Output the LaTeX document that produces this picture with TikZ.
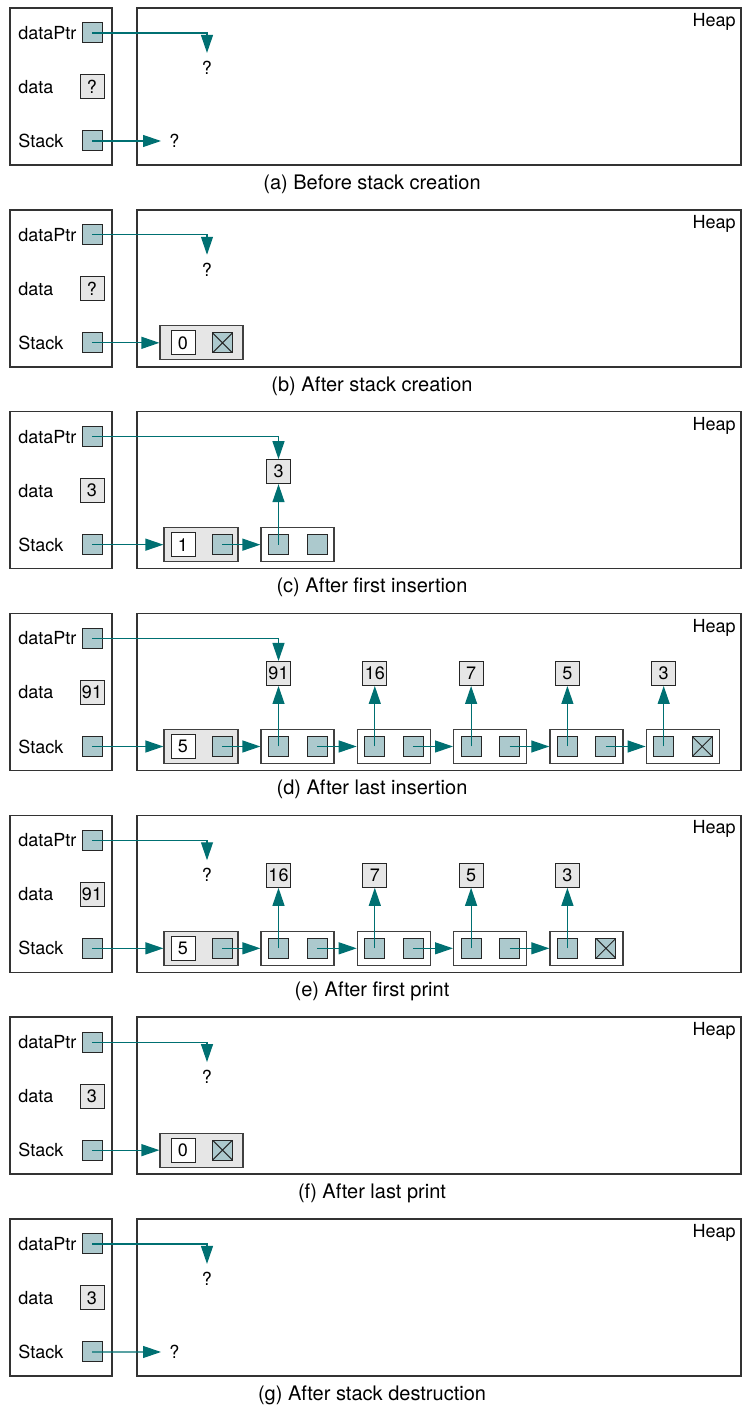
\documentclass[tikz,border=0pt]{standalone}
\usepackage{fontspec}
\setmainfont{TeX Gyre Heros}
\usepackage{tikz}
\usetikzlibrary{arrows.meta}
\definecolor{lnkcol}{RGB}{0,112,114}
\definecolor{ptrfill}{RGB}{172,201,205}
\definecolor{valfill}{RGB}{230,230,230}
\tikzset{
  frm/.style    ={draw=black!80, line width=0.7pt},
  lbl/.style    ={font=\fontsize{9}{10}\selectfont, inner sep=1pt},
  capt/.style   ={font=\fontsize{10}{12}\selectfont},
  unk/.style    ={lbl, inner sep=4pt},
  ptr/.style    ={draw=black!85, fill=ptrfill, minimum size=10pt,
                  inner sep=0pt, line width=0.5pt},
  nil/.style    ={ptr, path picture={
                  \draw[line width=0.5pt]
                  (path picture bounding box.south west) --
                  (path picture bounding box.north east)
                  (path picture bounding box.north west) --
                  (path picture bounding box.south east);}},
  val/.style    ={draw=black!85, fill=valfill, minimum size=12pt,
                  inner sep=0.5pt, line width=0.5pt,
                  font=\fontsize{9}{10}\selectfont},
  cnt/.style    ={val, fill=white},
  head/.style   ={draw=black!75, fill=valfill, minimum width=37pt,
                  minimum height=17pt, inner sep=0pt, line width=0.6pt},
  cell/.style   ={head, fill=white, minimum width=36.5pt},
  lnk/.style    ={-{Triangle[length=9pt, width=6pt]}, line width=0.6pt,
                  lnkcol},
}

\begin{document}
\begin{tikzpicture}[x=0.5pt, y=-0.5pt]
\useasboundingbox (0,0) rectangle (746,1406);
% frames shared by all seven states
\foreach \k/\p/\dval/\ctext in {0/a/?/Before stack creation,
    1/b/?/After stack creation, 2/c/3/After first insertion,
    3/d/91/After last insertion, 4/e/91/After first print,
    5/f/3/After last print, 6/g/3/After stack destruction}{
  \begin{scope}[shift={(0,201.83*\k)}]
  \draw[frm] (10,8) rectangle (112,165);
  \draw[frm] (137,8) rectangle (741,165);
  \node[lbl, anchor=east] (heap\p) at (738,22) {Heap};
  \node[lbl, anchor=west] (lptr\p) at (16,33) {dataPtr};
  \node[lbl, anchor=west] (ldata\p) at (16,87) {data};
  \node[lbl, anchor=west] (lstk\p) at (16,141) {Stack};
  \node[ptr] (ptr\p) at (92,33) {};
  \node[val] (data\p) at (92,87) {\dval};
  \node[ptr] (stk\p) at (92,141) {};
  \node[capt] (cap\p) at (372,184) {(\p) \ctext};
  \end{scope}
}

% (a)
\node[unk] (qa) at (207,68) {?};
\node[unk, anchor=west] (qsa) at (161,141) {?};
\draw[lnk] (ptra.center) -| (qa);
\draw[lnk] (stka.center) -- (qsa);

% (b)
\begin{scope}[shift={(0,201.83)}]
\node[unk] (qb) at (207,68) {?};
\node[head, minimum width=41.5pt] (topb) at (201.5,141) {};
\node[cnt] (cntb) at (183,141) {0};
\node[nil] (endb) at (222.5,141) {};
\draw[lnk] (ptrb.center) -| (qb);
\draw[lnk] (stkb.center) -- (topb);
\end{scope}

% (c)
\begin{scope}[shift={(0,403.66)}]
\node[head] (topc) at (201,141) {};
\node[cnt] (cntc) at (183,141) {1};
\node[ptr] (hpc) at (222,141) {};
\node[cell] (cc1) at (297.5,141) {};
\node[ptr] (ac1) at (278.5,141) {};
\node[ptr] (bc1) at (317,141) {};
\node[val] (vc1) at (278.5,68) {3};
\draw[lnk] (ptrc.center) -| (vc1);
\draw[lnk] (stkc.center) -- (topc);
\draw[lnk] (hpc.center) -- (cc1);
\draw[lnk] (ac1.center) -- (vc1);
\end{scope}

% (d)
\begin{scope}[shift={(0,605.49)}]
\node[head] (topd) at (201,141) {};
\node[cnt] (cntd) at (183,141) {5};
\node[ptr] (hpd) at (222,141) {};
\foreach \v/\s [count=\i] in {91/ptr,16/ptr,7/ptr,5/ptr,3/nil}{
  \node[cell] (cd\i) at ({297.5+96.3*(\i-1)},141) {};
  \node[ptr] (ad\i) at ({278.5+96.3*(\i-1)},141) {};
  \node[\s] (bd\i) at ({317+96.3*(\i-1)},141) {};
  \node[val] (vd\i) at ({278.5+96.3*(\i-1)},68) {\v};
  \draw[lnk] (ad\i.center) -- (vd\i);
}
\foreach \i/\j in {1/2,2/3,3/4,4/5}
  \draw[lnk] (bd\i.center) -- (cd\j);
\draw[lnk] (ptrd.center) -| (vd1);
\draw[lnk] (stkd.center) -- (topd);
\draw[lnk] (hpd.center) -- (cd1);
\end{scope}

% (e)
\begin{scope}[shift={(0,807.32)}]
\node[unk] (qe) at (207,68) {?};
\node[head] (tope) at (201,141) {};
\node[cnt] (cnte) at (183,141) {5};
\node[ptr] (hpe) at (222,141) {};
\foreach \v/\s [count=\i] in {16/ptr,7/ptr,5/ptr,3/nil}{
  \node[cell] (ce\i) at ({297.5+96.3*(\i-1)},141) {};
  \node[ptr] (ae\i) at ({278.5+96.3*(\i-1)},141) {};
  \node[\s] (be\i) at ({317+96.3*(\i-1)},141) {};
  \node[val] (ve\i) at ({278.5+96.3*(\i-1)},68) {\v};
  \draw[lnk] (ae\i.center) -- (ve\i);
}
\foreach \i/\j in {1/2,2/3,3/4}
  \draw[lnk] (be\i.center) -- (ce\j);
\draw[lnk] (ptre.center) -| (qe);
\draw[lnk] (stke.center) -- (tope);
\draw[lnk] (hpe.center) -- (ce1);
\end{scope}

% (f)
\begin{scope}[shift={(0,1009.15)}]
\node[unk] (qf) at (207,68) {?};
\node[head, minimum width=41.5pt] (topf) at (201.5,141) {};
\node[cnt] (cntf) at (183,141) {0};
\node[nil] (endf) at (222.5,141) {};
\draw[lnk] (ptrf.center) -| (qf);
\draw[lnk] (stkf.center) -- (topf);
\end{scope}

% (g)
\begin{scope}[shift={(0,1210.98)}]
\node[unk] (qg) at (207,68) {?};
\node[unk, anchor=west] (qsg) at (161,141) {?};
\draw[lnk] (ptrg.center) -| (qg);
\draw[lnk] (stkg.center) -- (qsg);
\end{scope}
\end{tikzpicture}
\end{document}
